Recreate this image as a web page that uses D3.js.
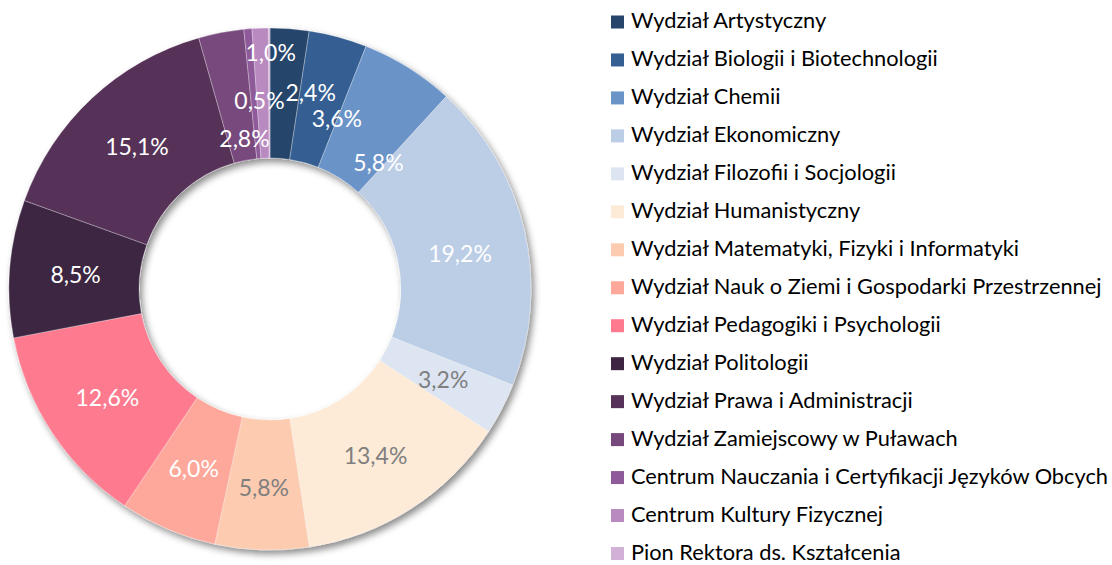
<!DOCTYPE html>
<html><head><meta charset="utf-8">
<script src="https://cdn.jsdelivr.net/npm/d3@7"></script>
<style>html,body{margin:0;padding:0;background:#fff;}svg{display:block;}</style>
</head><body>
<svg id="chart" width="1112" height="565"></svg>
<script>
const categories = [
  "Wydział Artystyczny",
  "Wydział Biologii i Biotechnologii",
  "Wydział Chemii",
  "Wydział Ekonomiczny",
  "Wydział Filozofii i Socjologii",
  "Wydział Humanistyczny",
  "Wydział Matematyki, Fizyki i Informatyki",
  "Wydział Nauk o Ziemi i Gospodarki Przestrzennej",
  "Wydział Pedagogiki i Psychologii",
  "Wydział Politologii",
  "Wydział Prawa i Administracji",
  "Wydział Zamiejscowy w Puławach",
  "Centrum Nauczania i Certyfikacji Języków Obcych",
  "Centrum Kultury Fizycznej",
  "Pion Rektora ds. Kształcenia"
];
const values = [2.4, 3.6, 5.8, 19.2, 3.2, 13.4, 5.8, 6.0, 12.6, 8.5, 15.1, 2.8, 0.5, 1.0, 0.1];
const labels = ["2,4%","3,6%","5,8%","19,2%","3,2%","13,4%","5,8%","6,0%","12,6%","8,5%","15,1%","2,8%","0,5%","1,0%",""];
const colors = ["#27456b","#345f92","#6a93c8","#bccde6","#dce5f1","#fdebd8","#fdcbb0","#fda89a","#fd7a8f","#3e2642","#563258","#77487b","#8f5a99","#b98ac0","#d1b1d6"];
const labelColors = ["#fff","#fff","#fff","#fff","#7f7f7f","#7f7f7f","#7f7f7f","#fff","#fff","#fff","#fff","#fff","#fff","#fff","#fff"];
// manual label nudges (px) for the crowded small slices
const labelNudge = [[26,-3],[16,17],[5,38],[0,8],[0,0],[0,2],[0,3],[0,0],[0,0],[0,0],[0,0],[11,41],[6,5],[8,-42],[0,0]];

const svg = d3.select("#chart");
const cx = 270, cy = 289, rOuter = 261, rInner = 131;
const FONT = "Lato, 'Open Sans', sans-serif";

const defs = svg.append("defs");
const f = defs.append("filter").attr("id","shadow").attr("x","-20%").attr("y","-20%").attr("width","140%").attr("height","140%");
f.append("feDropShadow").attr("dx",3).attr("dy",4).attr("stdDeviation",3.5).attr("flood-color","#000").attr("flood-opacity",0.45);

const pie = d3.pie().value(d => d).sort(null);
const arcs = pie(values);
const arc = d3.arc().innerRadius(rInner).outerRadius(rOuter);
const labelArc = d3.arc().innerRadius(195).outerRadius(195);

const g = svg.append("g").attr("transform", `translate(${cx},${cy})`);
g.append("g").attr("filter","url(#shadow)")
  .selectAll("path").data(arcs).join("path")
  .attr("d", arc)
  .attr("fill", (d,i) => colors[i])
  .attr("stroke", "#ffffff").attr("stroke-opacity",0.5).attr("stroke-width",0.6);

g.selectAll("text.lbl").data(arcs).join("text")
  .attr("class","lbl")
  .attr("x", (d,i) => labelArc.centroid(d)[0] + labelNudge[i][0])
  .attr("y", (d,i) => labelArc.centroid(d)[1] + labelNudge[i][1])
  .attr("text-anchor","middle").attr("dominant-baseline","central")
  .attr("font-family", FONT).attr("font-size", 23)
  .attr("fill", (d,i) => labelColors[i])
  .text((d,i) => labels[i]);

// legend
const legend = svg.append("g").attr("transform","translate(611,22)");
const ly = d3.scalePoint().domain(categories).range([0, 531.5]);
const items = legend.selectAll("g").data(categories).join("g")
  .attr("transform", d => `translate(0,${ly(d)})`);
items.append("rect").attr("x",0).attr("y",-6.5).attr("width",13).attr("height",13)
  .attr("fill", (d,i) => colors[i]);
items.append("text").attr("x",20).attr("y",6)
  .attr("font-family", FONT).attr("font-size", 21.8).attr("fill","#000")
  .text(d => d);
</script>
</body></html>
